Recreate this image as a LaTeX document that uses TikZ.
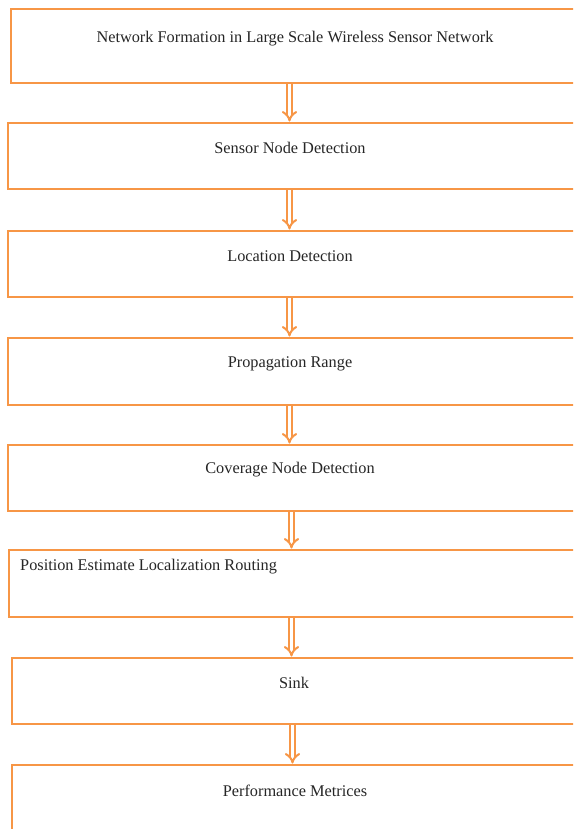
\documentclass[tikz,border=0pt]{standalone}
\usepackage{fontspec}
\setmainfont{Liberation Serif}
\usetikzlibrary{arrows.meta}
\definecolor{boxorange}{RGB}{247,150,70}
\tikzset{
  flowbox/.style={draw=boxorange, line width=2.9pt, rectangle, inner sep=0pt},
  flowtext/.style={inner sep=0pt, font=\fontsize{16.3}{18}\selectfont, text=black!85},
  dblarrow/.style={draw=boxorange, double=white, double distance=3pt, line width=2pt, -{Implies[length=5pt]}}
}
\begin{document}
\begin{tikzpicture}[x=1pt,y=-1pt]
\useasboundingbox (0,0) rectangle (573,829);
\clip (0,0) rectangle (573,829);
\fill[white] (0,0) rectangle (573,829);
\node[flowbox, minimum width=589pt, minimum height=74pt] (b1) at (305.5,46) {};
\node[flowbox, minimum width=592pt, minimum height=66pt] (b2) at (304,156) {};
\node[flowbox, minimum width=592pt, minimum height=66pt] (b3) at (304,264) {};
\node[flowbox, minimum width=592pt, minimum height=67pt] (b4) at (304,371.5) {};
\node[flowbox, minimum width=592pt, minimum height=66pt] (b5) at (304,478) {};
\node[flowbox, minimum width=591pt, minimum height=67pt] (b6) at (304.5,583.5) {};
\node[flowbox, minimum width=588pt, minimum height=66pt] (b7) at (306,691) {};
\node[flowbox, minimum width=588pt, minimum height=85pt] (b8) at (306,807.5) {};
\node[flowtext] (t1) at (295,39) {Network Formation in Large Scale Wireless Sensor Network};
\node[flowtext] (t2) at (290,148) {Sensor Node Detection};
\node[flowtext] (t3) at (290,256) {Location Detection};
\node[flowtext] (t4) at (290,364) {Propagation Range};
\node[flowtext] (t5) at (290,470) {Coverage Node Detection};
\node[flowtext, anchor=west] (t6) at (20,567) {Position Estimate Localization Routing};
\node[flowtext] (t7) at (294,683) {Sink};
\node[flowtext] (t8) at (295,791) {Performance Metrices};
\coordinate (xa) at (289.5,0);
\coordinate (xb) at (291.5,0);
\coordinate (xc) at (292.5,0);
\draw[dblarrow] (b1.south -| xa) -- (b2.north -| xa);
\draw[dblarrow] (b2.south -| xa) -- (b3.north -| xa);
\draw[dblarrow] (b3.south -| xa) -- (b4.north -| xa);
\draw[dblarrow] (b4.south -| xa) -- (b5.north -| xa);
\draw[dblarrow] (b5.south -| xb) -- (b6.north -| xb);
\draw[dblarrow] (b6.south -| xb) -- (b7.north -| xb);
\draw[dblarrow] (b7.south -| xc) -- (b8.north -| xc);
\end{tikzpicture}
\end{document}
